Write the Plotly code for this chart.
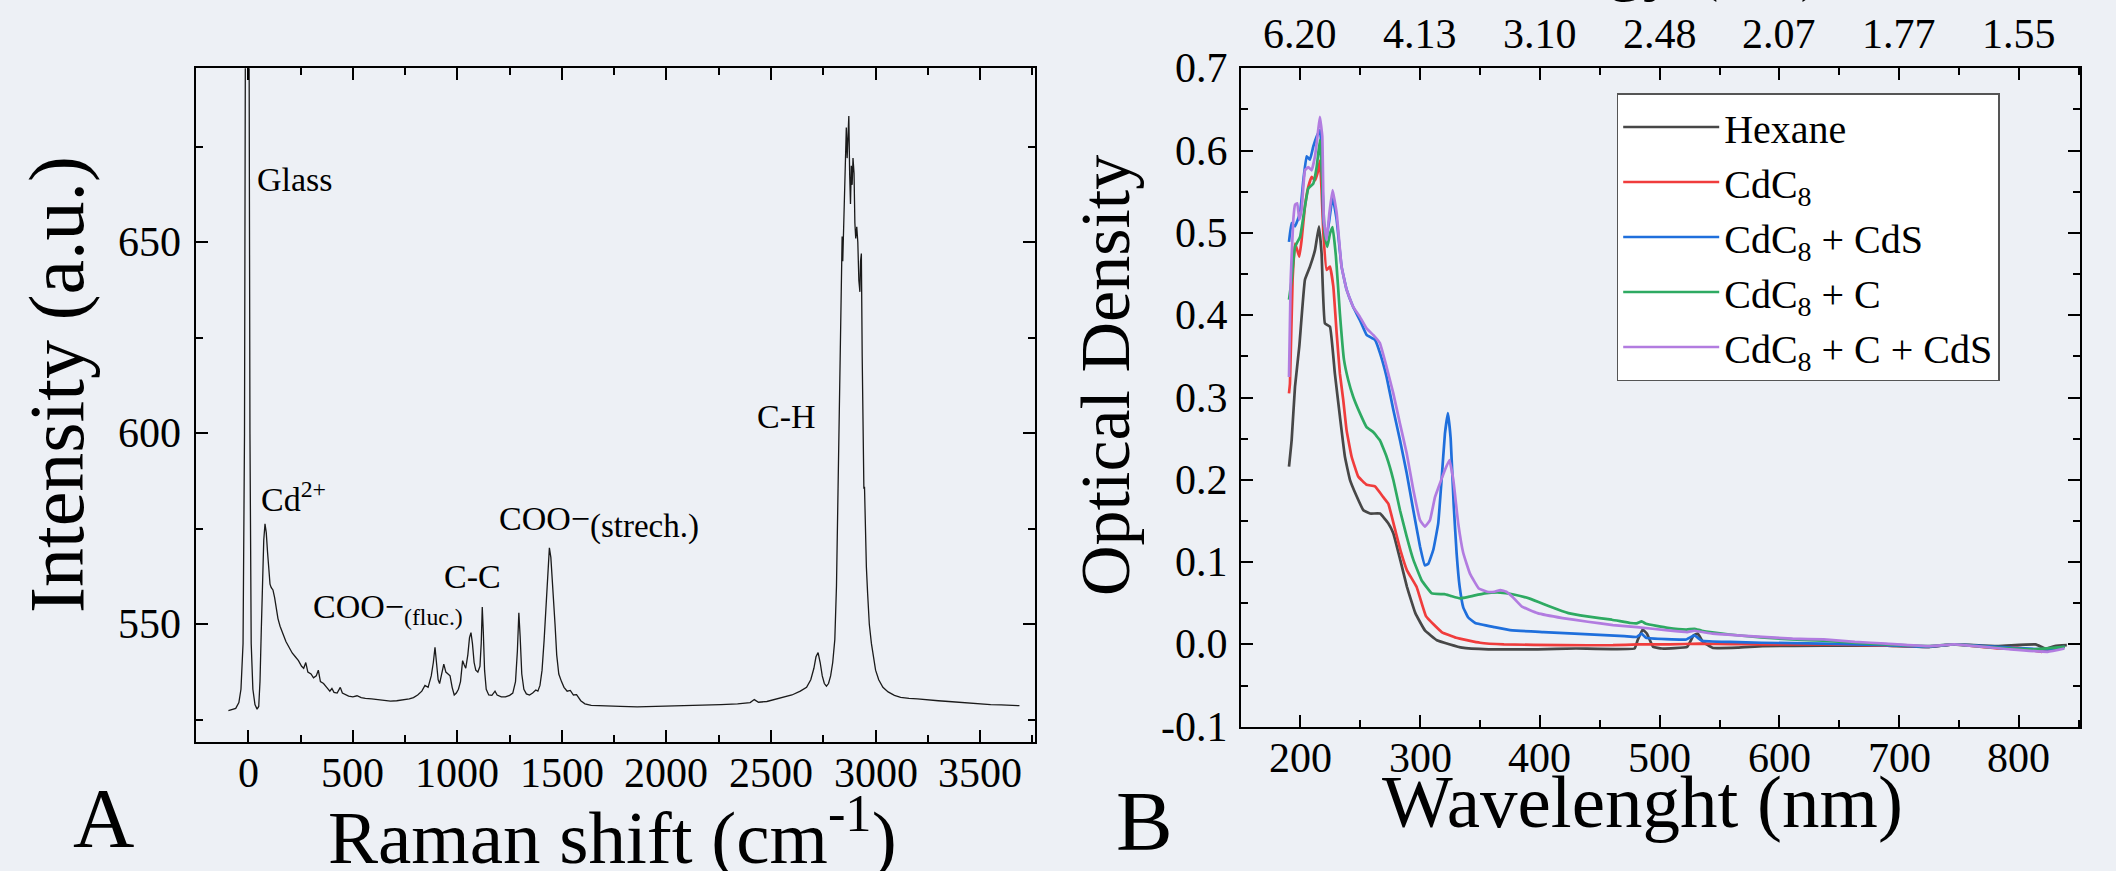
import plotly.graph_objects as go

W, H = 2116, 871
FONT = "Liberation Serif, Times New Roman, serif"

# ---------------- Panel A : Raman spectrum ----------------
raman_shift = [-95, -80, -60, -45, -35, -25, -18, -14, -5, 4, 8, 14, 22, 32, 42, 50, 56, 62, 68, 74, 80,
               86, 92, 98, 104, 110, 118, 126, 134, 142, 152, 165, 180, 195, 210, 225, 240, 255, 265, 275,
               285, 300, 312, 325, 335, 345, 360, 375, 390, 400, 410, 425, 440, 450, 465, 480, 500, 520,
               540, 560, 590, 620, 650, 680, 710, 740, 770, 790, 810, 830, 845, 860, 875, 885, 893, 900,
               908, 915, 925, 935, 945, 955, 965, 975, 985, 995, 1005, 1015, 1025, 1032, 1040, 1050, 1058,
               1065, 1072, 1080, 1088, 1098, 1108, 1114, 1119, 1124, 1130, 1138, 1150, 1165, 1180, 1190,
               1210, 1230, 1250, 1265, 1278, 1287, 1294, 1300, 1308, 1318, 1330, 1345, 1360, 1375, 1385,
               1395, 1405, 1415, 1425, 1433, 1440, 1447, 1453, 1460, 1467, 1475, 1485, 1498, 1510, 1525,
               1540, 1555, 1570, 1590, 1610, 1640, 1700, 1780, 1860, 1940, 2020, 2100, 2180, 2260, 2340,
               2400, 2420, 2440, 2480, 2520, 2560, 2600, 2640, 2670, 2690, 2705, 2715, 2725, 2735, 2745,
               2755, 2765, 2775, 2785, 2795, 2805, 2813, 2820, 2827, 2833, 2837, 2840, 2843, 2846, 2850,
               2855, 2860, 2864, 2868, 2872, 2876, 2880, 2884, 2888, 2892, 2897, 2901, 2905, 2910, 2915,
               2920, 2925, 2928, 2932, 2936, 2940, 2944, 2947, 2950, 2956, 2962, 2970, 2980, 2990, 3000,
               3015, 3035, 3060, 3090, 3120, 3160, 3200, 3250, 3300, 3350, 3400, 3450, 3500, 3550, 3600,
               3650, 3688]
raman_intensity = [527.4, 527.6, 528.0, 529.5, 533, 545, 600, 700, 760, 700, 600, 545, 533, 529, 527.8,
                   528.5, 535, 548, 562, 572, 576.3, 574, 569, 563, 560.5, 559.6, 559, 557, 554, 551.5,
                   549.5, 547.5, 545.5, 544, 542.5, 541.5, 540.5, 539, 538.5, 540, 537.5, 537, 536, 536.5,
                   538, 535, 534.5, 533.5, 532.5, 533.2, 532.2, 532, 533.5, 532, 531.5, 531.2, 531.0, 531.3,
                   530.8, 530.6, 530.5, 530.3, 530.0, 529.9, 530.0, 530.2, 530.5, 530.8, 531.5, 532.5, 534,
                   533.5, 536.5, 540, 544, 540, 535.5, 534.5, 537, 539.6, 537.5, 537, 536.5, 533.5, 531.5,
                   532, 533, 535, 540.5, 539.5, 538.5, 542, 546.5, 547.8, 545, 540, 538, 537.5, 539, 545,
                   554.5, 548, 538, 533, 531.5, 531.4, 532.5, 531.5, 531.0, 531.0, 531.4, 532, 535, 543, 553,
                   547, 537, 533, 531.8, 531.5, 532, 532.8, 532.5, 534, 538, 546, 557, 566, 570, 567.5, 563,
                   558, 550, 542, 537, 535, 533.5, 532.5, 532.7, 531.5, 531.6, 530, 529.2, 528.8, 528.6,
                   528.5, 528.4, 528.5, 528.6, 528.8, 528.9, 529.0, 529.2, 529.5, 530.3, 529.6, 529.8, 530.3,
                   530.8, 531.5, 532.5, 533.5, 535.5, 538.5, 541.5, 542.6, 540, 536.5, 534.5, 533.8, 534.5,
                   536.5, 540, 546, 560, 585, 615, 638, 650, 651.5, 645, 651, 660, 672, 680, 672, 680, 683,
                   668, 660, 670, 665, 672, 668, 655, 651, 654, 650, 640, 637, 645, 647, 620, 590, 585.5, 586,
                   575, 565, 558, 550, 545, 541, 538, 535.5, 533.5, 532.3, 531.4, 530.9, 530.6, 530.5, 530.2,
                   530.0, 529.8, 529.6, 529.3, 529.2, 529.0, 528.9, 528.8, 528.7]

raman_xticks = [0, 500, 1000, 1500, 2000, 2500, 3000, 3500]
raman_yticks = [550, 600, 650]

# ---------------- Panel B : UV-Vis spectra ----------------
hexane_wl = [190.5, 192.7, 195.5, 199.1, 203.8, 208, 212.2, 215.5, 217.7, 220.5, 224.7, 228.8, 233, 237.2,
             241.4, 247, 252.6, 258.2, 266.5, 273.5, 277.6, 283.5, 289, 296, 304, 314, 335, 357, 398, 430,
             479, 481.6, 485.8, 489.4, 494.6, 502, 523, 528.4, 532, 536.2, 544, 565, 586, 637, 690, 725,
             746, 783, 814, 822, 830, 840]
hexane_od = [0.216, 0.248, 0.313, 0.362, 0.443, 0.459, 0.479, 0.508, 0.475, 0.39, 0.386, 0.329, 0.277, 0.228,
             0.2, 0.18, 0.163, 0.159, 0.159, 0.147, 0.135, 0.102, 0.07, 0.038, 0.017, 0.005, -0.004, -0.006,
             -0.006, -0.005, -0.005, 0.005, 0.018, 0.013, -0.003, -0.005, -0.003, 0.011, 0.013, 0.003, -0.004,
             -0.004, -0.002, -0.0015, -0.0015, -0.003, 0.0, -0.002, 0.0, -0.005, -0.002, -0.001]

cdc8_wl = [190.5, 191.3, 193.5, 195.5, 197.4, 199.1, 201, 203.8, 206.6, 209.4, 212.2, 214.9, 216.3, 217.7,
           219.2, 221.9, 224.7, 227.5, 230.3, 233, 235.8, 238.6, 242.8, 248.3, 255.3, 262.3, 269.2, 273.4,
           279, 284, 289, 297, 305, 318, 330, 350, 370, 419, 461, 482, 508, 534, 560, 586, 637, 690, 725,
           746, 783, 799, 819, 835]
cdc8_od = [0.305, 0.317, 0.443, 0.487, 0.479, 0.471, 0.491, 0.532, 0.556, 0.568, 0.564, 0.576, 0.588, 0.552,
           0.499, 0.455, 0.459, 0.435, 0.378, 0.329, 0.297, 0.26, 0.228, 0.204, 0.194, 0.192, 0.179, 0.171,
           0.14, 0.112, 0.09, 0.07, 0.034, 0.015, 0.008, 0.002, 0.0, -0.001, -0.001, 0.0, 0.0, 0.001, 0.0004,
           0.0, 0.0, -0.0015, -0.003, 0.0, -0.005, -0.004, -0.009, -0.005]

cds_wl = [190.5, 192.7, 195.5, 199.7, 202.5, 205.2, 208, 210.8, 213.6, 216.3, 217.7, 219.2, 221.4, 224.2,
          226.9, 230.3, 234.4, 238.6, 244.1, 249.7, 255.3, 262.3, 266.5, 272, 277.6, 283.2, 288.8, 294.3,
          299.9, 304, 306.8, 311, 315.1, 317.9, 320.7, 323.2, 325.5, 328, 330.5, 333, 336, 340, 346, 362,
          377, 403, 429, 470.5, 480.8, 485, 488.6, 522.3, 529, 535.2, 559, 585, 636, 688, 725, 746, 793,
          824, 838]
cds_od = [0.489, 0.512, 0.508, 0.524, 0.564, 0.593, 0.589, 0.605, 0.617, 0.625, 0.605, 0.516, 0.491, 0.516,
          0.544, 0.516, 0.459, 0.431, 0.41, 0.394, 0.376, 0.37, 0.354, 0.325, 0.285, 0.248, 0.208, 0.163,
          0.119, 0.096, 0.098, 0.115, 0.147, 0.2, 0.256, 0.281, 0.25, 0.17, 0.11, 0.07, 0.045, 0.033, 0.026,
          0.021, 0.017, 0.015, 0.013, 0.010, 0.009, 0.013, 0.008, 0.006, 0.011, 0.0045, 0.003, 0.002, 0.001,
          -0.001, -0.003, 0.0, -0.004, -0.006, -0.003]

c_wl = [190.5, 192.7, 195.5, 199.7, 203.8, 206.6, 210.8, 213.6, 216.3, 217.7, 220.5, 222.5, 224.7, 226.9,
        229.7, 233, 236.4, 240, 244.1, 249.7, 255.3, 260.8, 266.4, 272, 277.6, 283.2, 288.8, 294.3, 301.2,
        309.8, 320.2, 325.4, 333.2, 341, 353.9, 366.8, 377.2, 392.7, 408.3, 423.8, 439.4, 460.1, 475.6, 480.8,
        485, 488.6, 506.7, 522.3, 529, 535.2, 558.5, 584.5, 610.4, 636.3, 662.2, 688.1, 724.4, 745, 781.3,
        812.4, 838.3]
c_od = [0.419, 0.443, 0.483, 0.495, 0.532, 0.554, 0.56, 0.58, 0.613, 0.58, 0.495, 0.483, 0.499, 0.507, 0.471,
        0.402, 0.346, 0.321, 0.301, 0.281, 0.264, 0.258, 0.248, 0.228, 0.2, 0.163, 0.131, 0.103, 0.078, 0.062,
        0.061, 0.059, 0.056, 0.058, 0.062, 0.063, 0.061, 0.055, 0.046, 0.038, 0.034, 0.030, 0.026, 0.0255,
        0.028, 0.025, 0.020, 0.018, 0.019, 0.0166, 0.012, 0.0085, 0.006, 0.0045, 0.002, 0.0, -0.002, 0.0,
        -0.004, -0.006, -0.003]

ccds_wl = [190.5, 191.9, 194.1, 195.5, 197.4, 199.1, 201, 203.8, 206.6, 209.4, 212.2, 214.9, 216.3, 218.3,
           219.6, 221.9, 224.2, 226.9, 230.3, 234.4, 238.6, 244.1, 249.7, 255.3, 260.8, 266.4, 272, 277.6,
           283.2, 288.8, 294.3, 299.9, 304, 308.2, 312.4, 316.6, 320.7, 324.4, 327.7, 331.8, 336, 341.6, 349,
           356, 362, 367, 372, 377, 385, 398, 419, 440, 461, 481, 507, 523, 529, 544, 575, 611, 637, 663, 689,
           725, 746, 793, 824, 838]
ccds_od = [0.325, 0.443, 0.516, 0.534, 0.536, 0.516, 0.528, 0.576, 0.58, 0.576, 0.593, 0.625, 0.641, 0.617,
           0.516, 0.491, 0.524, 0.552, 0.524, 0.459, 0.431, 0.41, 0.398, 0.384, 0.376, 0.366, 0.337, 0.305,
           0.268, 0.232, 0.188, 0.151, 0.143, 0.151, 0.179, 0.196, 0.212, 0.224, 0.2, 0.147, 0.111, 0.086,
           0.068, 0.064, 0.064, 0.066, 0.064, 0.058, 0.046, 0.038, 0.032, 0.0275, 0.0235, 0.021, 0.017, 0.015,
           0.0166, 0.013, 0.010, 0.007, 0.006, 0.003, 0.001, -0.002, 0.0, -0.006, -0.009, -0.005]

uv_names = ["Hexane", "CdC<sub>8</sub>", "CdC<sub>8</sub> + CdS", "CdC<sub>8</sub> + C",
            "CdC<sub>8</sub> + C + CdS"]
uv_colors = ["#474747", "#f03c3c", "#1f6fdc", "#2eaa62", "#b27ce0"]
uv_wl = [hexane_wl, cdc8_wl, cds_wl, c_wl, ccds_wl]
uv_od = [hexane_od, cdc8_od, cds_od, c_od, ccds_od]

wl_ticks = [200, 300, 400, 500, 600, 700, 800]
energy_labels = ["6.20", "4.13", "3.10", "2.48", "2.07", "1.77", "1.55"]
od_ticks = [-0.1, 0.0, 0.1, 0.2, 0.3, 0.4, 0.5, 0.6, 0.7]

# ---------------- figure ----------------
def px(x):
    return x / W


def py(y):
    return 1 - y / H


def serif(t):
    return '<span style="font-family:Liberation Serif">' + t + "</span>"


fig = go.Figure()
fig.add_trace(go.Scatter(x=raman_shift, y=raman_intensity, mode="lines",
                         line=dict(color="#1a1a1a", width=1.3), showlegend=False,
                         xaxis="x", yaxis="y"))
for name, wl, od, col in zip(uv_names, uv_wl, uv_od, uv_colors):
    fig.add_trace(go.Scatter(x=wl, y=od, mode="lines", name=serif(name),
                             line=dict(color=col, width=2.7, shape="spline", smoothing=0.3),
                             xaxis="x2", yaxis="y2"))

minor = dict(ticks="inside", ticklen=7, tickwidth=2, tickcolor="black", showgrid=False)
common = dict(showline=True, linecolor="black", linewidth=2, ticks="inside", ticklen=12, tickwidth=2,
              tickcolor="black", showgrid=False, zeroline=False, automargin=False, showticklabels=False,
              mirror="ticks")

fig.update_layout(
    template="none",
    width=W, height=H, margin=dict(l=0, r=0, t=0, b=0, autoexpand=False),
    paper_bgcolor="#edf0f5", plot_bgcolor="rgba(0,0,0,0)",
    font=dict(family=FONT, color="black"),
    xaxis=dict(domain=[px(196), px(1034.5)], range=[-250, 3760], tickvals=raman_xticks,
               anchor="y", minor=dict(dtick=250, **minor), **common),
    yaxis=dict(domain=[py(742), py(68.3)], range=[519.2, 695.5], tickvals=raman_yticks,
               anchor="x", minor=dict(dtick=25, **minor), **common),
    xaxis2=dict(domain=[px(1240.5), px(2080)], range=[150, 851], tickvals=wl_ticks,
                anchor="y2", minor=dict(dtick=50, **minor), **common),
    yaxis2=dict(domain=[py(726.7), py(68.3)], range=[-0.1, 0.7], tickvals=od_ticks,
                anchor="x2", minor=dict(dtick=0.05, **minor), **common),
    legend=dict(x=px(1616.7), y=py(93), xanchor="left", yanchor="top", bgcolor="white",
                bordercolor="#555555", borderwidth=1.5,
                font=dict(family=FONT, size=40, color="black"),
                itemwidth=96, tracegroupgap=0, traceorder="normal"),
)


def ann(text, x, y, size, xanchor="center", yanchor="middle", angle=0, xref="paper", yref="paper"):
    fig.add_annotation(text=text, x=x, y=y, xref=xref, yref=yref, showarrow=False,
                       xanchor=xanchor, yanchor=yanchor, textangle=angle,
                       font=dict(family=FONT, size=size, color="black"))


TICK = 42
# tick labels (placed through the axes' own scales)
for v in raman_xticks:
    ann(str(v), v, py(773), TICK, xref="x")
for v in raman_yticks:
    ann(str(v), px(183), v, TICK, xanchor="right", yref="y")
for v in wl_ticks:
    ann(str(v), v, py(758), TICK, xref="x2")
for v, lab in zip(wl_ticks, energy_labels):
    ann(lab, v, py(34), TICK, xref="x2")
for v in od_ticks:
    ann("%.1f" % v, px(1230), v, TICK, xanchor="right", yref="y2")

# axis titles & panel letters
ann("Intensity (a.u.)", px(57), py(385), 78, angle=-90)
ann("Raman shift (cm<sup>-1</sup>)", px(612), py(831), 75)
ann("Optical Density", px(1105), py(376), 70, angle=-90)
ann("Wavelenght (nm)", px(1642), py(801), 75)
ann("Energy (eV)", px(1650), py(4), 70, yanchor="bottom")
ann("A", px(103), py(818), 85)
ann("B", px(1144.5), py(821), 85)

# peak labels
ann("Glass", px(255), py(180), 34, xanchor="left")
ann("Cd<sup>2+</sup>", px(259), py(497), 34, xanchor="left")
ann("COO\u2212<sub>(fluc.)</sub>", px(310.7), py(609), 34, xanchor="left")
ann("C-C", px(472), py(576.7), 34)
ann('COO\u2212<sub><span style="font-size:33px">(strech.)</span></sub>', px(497), py(522), 34,
    xanchor="left")
ann("C-H", px(786.5), py(416.7), 34)

fig.write_html("out.html", config={"displayModeBar": False},
               post_script="document.body.style.margin='0';document.body.style.overflow='hidden';")
